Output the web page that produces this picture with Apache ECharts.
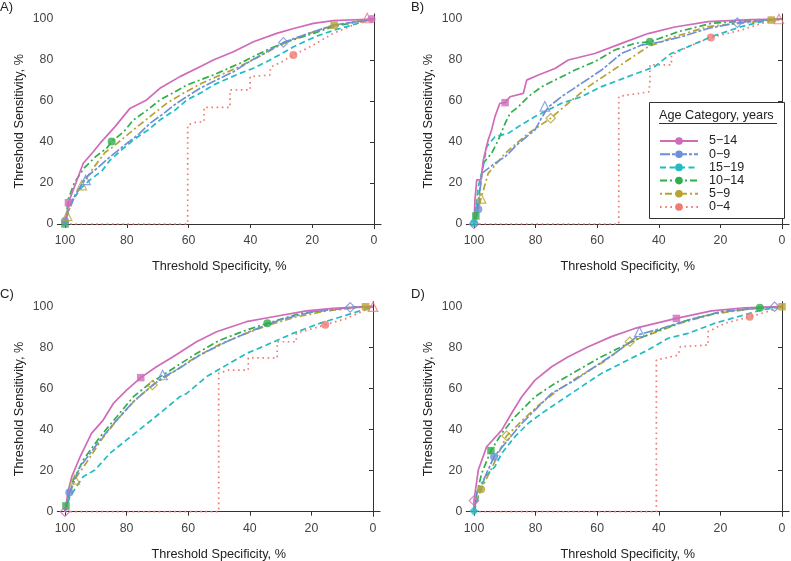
<!DOCTYPE html>
<html><head><meta charset="utf-8">
<script src="https://cdn.jsdelivr.net/npm/echarts@6/dist/echarts.min.js"></script>
<style>html,body{margin:0;padding:0;background:#fff}#c{width:791px;height:561px}</style>
</head><body><div id="c"></div>
<script>
// ---------- data ----------
const categories = ['5\u221214', '0\u22129', '15\u221219', '10\u221214', '5\u22129', '0\u22124'];
const panelLabels = ['A)', 'B)', 'C)', 'D)'];
const tickValues = [0, 20, 40, 60, 80, 100];

// Panel A  [specificity, sensitivity]
const A_514 = [[100,0],[99.3,5],[98.9,10.4],[97,18],[94.1,29.6],[91,35],[88.7,39.3],[83.8,47.5],[79,56.4],[73.6,60.5],[69.3,66.2],[62.8,71.9],[56.3,76.7],[52,80],[45.5,84],[39,88.9],[31.5,93],[26,95.4],[19.6,97.9],[13.2,99.2],[0,100]];
const A_09 = [[100,0],[100,1],[99,8],[96,16],[93,23],[89,28],[85.4,32.8],[80,39.3],[76,44],[72.5,49.1],[68,54],[63.9,58.9],[56.3,66.2],[50,71],[45.5,74.3],[40,79.5],[34.7,84],[29.3,88.6],[24,91.5],[19.6,93.8],[13.2,97],[2.4,99.5],[0,100]];
const A_1519 = [[100,0],[99,6],[97,13],[94.5,18],[91.9,21.5],[88,26],[85.4,31.2],[81,37],[77.9,41],[73,46],[69.3,50.7],[64,56],[60.6,60.5],[56,64],[52,67.8],[48,70.5],[43.4,73.5],[39,76],[34.7,79.2],[30,83],[26,86.5],[21,90],[17.5,92.2],[13,94.5],[8.8,96.3],[4,98.5],[0,100]];
const A_1014 = [[100,0],[99.5,5],[99,12],[97,20],[94,27],[90,33],[86.5,37],[84.9,40.2],[81,45],[77.9,50.7],[73,56],[69.3,60.5],[65,64],[60.6,67.8],[52,72.7],[43.4,78.4],[34.7,84.9],[28.3,88.9],[19.6,93],[13.2,96.3],[2.4,99.5],[0,100]];
const A_59 = [[100,0],[99.5,3],[98,10],[94.6,19],[91,27],[87,35],[85,37],[81,42],[77,47],[72,53],[67,59],[62,63.5],[56,68.5],[50,72.5],[44,76.5],[38,81],[32,86],[27,89.5],[20,93.5],[12.9,97],[5,99],[0,100]];
const A_04 = [[100,0],[60.3,0],[60.3,48.3],[58,49.5],[55,50],[55,56.9],[46.6,56.9],[46.6,65.4],[40.1,65.4],[40.1,71.9],[33.7,72.7],[33.5,76.5],[30,79],[26.1,82.4],[20,87],[13.2,93],[6,97.5],[2.4,99.5],[0,100]];

// Panel B
const B_514 = [[100,0],[99.7,11.7],[99.1,21.5],[97.7,21.5],[97,31],[95.4,41],[94.3,45.9],[93.2,52.4],[91.6,58.9],[89.9,59.2],[88.3,62.1],[84,63.7],[82.9,70.2],[79.1,72.7],[73.7,75.9],[69.4,80],[60.8,83.2],[52.1,88.1],[43.5,92.9],[34.8,96.1],[24,98.7],[10,99.7],[0,100]];
const B_09 = [[100,0],[98.6,7.2],[97.5,24.7],[93.2,29.6],[89.9,32.8],[85.6,39.3],[80.2,45.9],[78,52],[75.9,57],[71.6,62.1],[65.1,68.6],[58.6,75.1],[52.1,83.2],[45.6,87.3],[39.2,88.9],[32.6,91.4],[24,95.4],[14.5,98.2],[0,100]];
const B_1519 = [[100,0],[100,0.5],[98.6,18.2],[97,28],[95.9,37.7],[93.2,42.6],[88.9,44.2],[85.6,47.5],[80.2,52.4],[75.9,55.6],[71.6,58.9],[65.1,62.1],[58.6,67],[50,71.9],[41.4,76.7],[36,83.2],[30.5,86.5],[22.9,91.4],[13.2,96.3],[4.5,99.5],[0,100]];
const B_1014 = [[100,0],[99.4,3.9],[98,18],[97,29.6],[94.3,34.5],[92.1,41],[89.9,49.1],[88.3,54],[85.6,57.2],[82.4,62.1],[78,67],[73.7,70.2],[67.2,75.1],[60.8,79.2],[54.3,84.9],[47.8,88.1],[42.9,88.9],[33.7,93.8],[22.9,97.9],[6.7,99.5],[0,100]];
const B_59 = [[100,0],[99,5],[97.7,12.5],[95.4,24.7],[89.9,34.5],[82.4,44.2],[75.2,51.5],[69.4,58.9],[62.9,67],[56.4,73.5],[50,80],[43.5,86.5],[34.8,91.4],[24,96.3],[3.5,99.5],[0,100]];
const B_04 = [[100,0],[53,0],[53,62.1],[50,63],[46.5,63.7],[43.2,64.5],[42.9,69.4],[42.9,77.6],[35.9,77.6],[35.9,82.4],[30.5,86.5],[23.1,91],[13.2,94.6],[6.7,97.9],[0,100]];

// Panel C
const C_514 = [[100,0],[99,10],[97.8,17.1],[95.1,26.8],[91.4,38.2],[87.6,44.7],[84.3,52.8],[80,59.3],[75.4,65.4],[70.3,70.7],[64.9,75.6],[57.3,82.9],[50.8,87.8],[41.1,92.7],[32.4,95.1],[21.6,98],[13,99.2],[0,100]];
const C_09 = [[100,0],[98.6,9.4],[95.1,21.9],[88.6,35],[83.2,44.7],[77.8,53.7],[71.4,61.8],[68.3,65.5],[63.8,69.1],[56.2,76.4],[47.6,82.9],[38.9,88.6],[30.3,93.5],[19.5,97.6],[7.4,99.7],[0,100]];
const C_1519 = [[100,0],[98.4,7.3],[94.1,17.1],[90.3,20.3],[85.4,28.5],[80,35],[74.6,41.5],[69.2,48],[62.7,56.1],[60.5,57.7],[54,65.9],[47.6,71.5],[41.1,77.2],[34.6,81.3],[26,87],[17.3,91.9],[8.6,95.9],[0,100]];
const C_1014 = [[100,0],[99.7,2.8],[97.3,15.4],[94.1,25.2],[88.6,36.6],[83.2,46.3],[77.8,56.1],[72.4,62.6],[64.9,69.9],[57.3,77.2],[49.7,83.7],[41.1,88.6],[34.3,91.9],[23.8,96.7],[13,98.7],[4.3,100],[0,100]];
const C_59 = [[100,0],[99,6],[96.8,15.8],[93,24],[88,35.5],[83,45],[77.5,54],[71.6,61.8],[65,68],[58,75],[50,81.5],[42,86.5],[34,91],[25,95],[15,98],[2.4,100],[0,100]];
const C_04 = [[100,0],[50.1,0],[50.1,67.5],[47,69.1],[40.5,69.1],[40.5,75],[31.1,75],[31.1,82.9],[24.9,82.9],[24.9,87],[15.5,91.2],[8.6,94.3],[0,100]];

// Panel D
const D_514 = [[100,0],[100,5.4],[98.6,20.3],[95.9,31.7],[91,39.8],[87.8,48],[84.5,56.1],[80.2,64.2],[74.8,70.7],[69.4,75.6],[62.9,80.5],[55.4,85.4],[47.8,89.4],[34.3,94.3],[22.9,98],[12.1,99.5],[0,100]];
const D_09 = [[100,0],[99.1,8.9],[96.4,17.1],[93.5,26.8],[89.9,33.3],[84.5,43.1],[80.2,49.6],[74.8,57.7],[67.2,64.2],[60.8,70.7],[54.3,77.2],[50,82],[46.2,86.5],[39.2,89.4],[30.5,93.5],[19.7,97.6],[2.4,100],[0,100]];
const D_1519 = [[100,0],[100,0.3],[98.6,7.3],[96.4,17.1],[93.2,22],[91,28.5],[86.7,36.6],[82.4,43.1],[78,48],[71.6,54.5],[65.1,61],[58.6,67.5],[50,74],[43.5,78.9],[37,84.6],[30.5,87],[21.9,91.9],[14.4,95.1],[6.7,98.4],[0,100]];
const D_1014 = [[100,0],[99.1,8.9],[97.5,18.7],[94.5,29.8],[91,38.2],[86.7,46.3],[80.2,56.1],[73.7,62.6],[66.2,69.1],[58.6,75.6],[50,82.1],[41.3,87.8],[30.5,93.5],[19.7,97.6],[7.2,99.5],[0,100]];
const D_59 = [[100,0],[99.5,4],[97.7,10.9],[94,22],[89.4,37],[84,45],[79,52],[73,59],[66,66],[58,73],[49.4,82.9],[42,87],[33,92],[22,96.5],[10,99],[0,100]];
const D_04 = [[100,0],[40.8,0],[40.8,74],[33.7,76.4],[33,80.5],[24,81.3],[24,87.8],[18.6,91.9],[10.5,95.1],[6.7,96.7],[0,100]];

// threshold markers: [specificity, sensitivity, category index, shape, filled]
const A_marks = [[98.9,10.4,0,'rect',1],[100,0,3,'rect',1],[100,1.5,1,'circle',1],[99.3,4,4,'triangle',0],[94.6,19,4,'triangle',0],[93.3,21.5,1,'triangle',0],[84.9,40.2,3,'circle',1],[29.3,88.6,1,'diamond',0],[26.1,82.4,5,'circle',1],[12.9,97,4,'rect',1],[2.2,100.5,5,'triangle',0],[0.8,100,0,'circle',1]];
const B_marks = [[89.9,59.2,0,'rect',1],[42.9,88.9,3,'circle',1],[23.1,91,5,'circle',1],[14.5,98.2,1,'diamond',0],[3.5,99.5,4,'rect',1],[1,100,5,'triangle',0],[77,57.4,1,'triangle',0],[75.1,51.6,4,'diamond',0],[97.7,12.5,4,'triangle',0],[98.6,7.2,1,'circle',1],[99.4,3.9,3,'rect',1],[100,0,0,'diamond',0],[100,0.5,2,'circle',1]];
const C_marks = [[75.4,65.4,0,'rect',1],[34.3,91.9,3,'circle',1],[15.5,91.2,5,'circle',1],[7.4,99.7,1,'diamond',0],[2.4,100,4,'rect',1],[0,100,5,'triangle',0],[68.3,66.7,1,'triangle',0],[71.6,61.8,4,'diamond',0],[96.8,15.8,4,'triangle',0],[98.6,9.4,1,'circle',1],[99.7,2.8,3,'rect',1],[100,0,0,'diamond',0]];
const D_marks = [[34.3,94.3,0,'rect',1],[7.2,99.5,3,'circle',1],[10.5,95.1,5,'circle',1],[2.4,100,1,'diamond',0],[0,100,4,'rect',1],[46.3,87.8,1,'triangle',0],[49.4,82.9,4,'diamond',0],[89.4,37,4,'diamond',0],[94.5,29.8,3,'rect',1],[93.5,26.8,1,'circle',1],[97.7,10.9,4,'circle',1],[100,5.4,0,'diamond',0],[100,0.3,2,'diamond',1]];

// ---------- styling ----------
const colors = ['#D06BBA', '#6E90D8', '#22BBC3', '#2FAE4B', '#B7A232', '#EF7A72'];
const dashes = ['solid', [10, 2, 3, 2], [6, 3.5], [7, 3, 2, 3], [2, 3, 7, 3], [1.6, 3.6]];
const FONT = 'Liberation Sans, Arial, Helvetica, sans-serif';

const panels = [
  { curves: [A_514, A_09, A_1519, A_1014, A_59, A_04], marks: A_marks, grid: { left: 57.3, top: 13.9, width: 323.8, height: 214.8 }, label: { left: 0, top: 1 } },
  { curves: [B_514, B_09, B_1519, B_1014, B_59, B_04], marks: B_marks, grid: { left: 466.3, top: 13.9, width: 322.8, height: 214.8 }, label: { left: 411, top: 1 } },
  { curves: [C_514, C_09, C_1519, C_1014, C_59, C_04], marks: C_marks, grid: { left: 57.3, top: 301.6, width: 322.8, height: 214.8 }, label: { left: 0, top: 288 } },
  { curves: [D_514, D_09, D_1519, D_1014, D_59, D_04], marks: D_marks, grid: { left: 466.3, top: 301.6, width: 322.8, height: 214.8 }, label: { left: 411, top: 288 } }
];

const axisCommon = {
  type: 'value', min: -2.3, max: 102.5,
  axisLine: { show: true, lineStyle: { color: '#333', width: 1 } },
  axisTick: { show: true, length: 4, lineStyle: { color: '#333' }, customValues: tickValues },
  axisLabel: { fontSize: 12.3, color: '#444', fontFamily: FONT, customValues: tickValues },
  splitLine: { show: false },
  nameLocation: 'middle',
  nameTextStyle: { fontSize: 12.7, color: '#222', fontFamily: FONT }
};

const grids = [], xAxes = [], yAxes = [], series = [], titles = [];
panels.forEach((p, i) => {
  grids.push(Object.assign({ outerBoundsMode: 'none', containLabel: false }, p.grid));
  xAxes.push(Object.assign({}, axisCommon, { gridIndex: i, inverse: true, name: 'Threshold Specificity, %', nameGap: 31.5,
    axisLabel: Object.assign({}, axisCommon.axisLabel, { margin: 6 }) }));
  yAxes.push(Object.assign({}, axisCommon, { gridIndex: i, name: 'Threshold Sensitivity, %', nameGap: 31.5,
    axisLabel: Object.assign({}, axisCommon.axisLabel, { margin: 4 }) }));
  titles.push({ text: panelLabels[i], left: p.label.left, top: p.label.top, padding: 0,
    textStyle: { fontSize: 13, fontWeight: 'normal', color: '#222', fontFamily: FONT } });
  [5, 4, 3, 2, 1, 0].forEach(k => {
    series.push({
      type: 'line', name: categories[k], xAxisIndex: i, yAxisIndex: i,
      data: p.curves[k], symbol: 'none', showSymbol: false, smooth: false,
      color: colors[k],
      lineStyle: { color: colors[k], width: 1.7, type: dashes[k] },
      z: 2, silent: true, animation: false
    });
  });
  series.push({
    type: 'scatter', name: 'markers' + i, xAxisIndex: i, yAxisIndex: i, z: 5, silent: true, animation: false,
    data: p.marks.map(m => ({
      value: [m[0], m[1]],
      symbol: m[3],
      symbolSize: m[3] === 'rect' ? 7.5 : (m[3] === 'circle' ? 8 : 9.5),
      itemStyle: m[4] ? { color: colors[m[2]], borderWidth: 0 }
                      : { color: 'rgba(255,255,255,0)', borderColor: colors[m[2]], borderWidth: 1.2 }
    }))
  });
});

const chart = echarts.init(document.getElementById('c'), null, { renderer: 'canvas' });
chart.setOption({
  animation: false,
  backgroundColor: '#fff',
  title: titles,
  grid: grids, xAxis: xAxes, yAxis: yAxes, series: series,
  legend: {
    data: categories, orient: 'vertical', left: 659, top: 134.5, padding: 0, z: 100,
    itemWidth: 38, itemHeight: 9.5, itemGap: 0.2, selectedMode: false,
    textStyle: { fontSize: 12.5, color: '#222', fontFamily: FONT, lineHeight: 13, padding: [0, 0, 0, 6] }
  },
  graphic: [
    { type: 'rect', z: 50, shape: { x: 649.5, y: 102.5, width: 135, height: 116 }, style: { fill: '#fff', stroke: '#333', lineWidth: 1 } },
    { type: 'text', z: 51, x: 659, y: 115, style: { text: 'Age Category, years', fill: '#222', font: '12.7px ' + FONT, verticalAlign: 'middle' } },
    { type: 'line', z: 51, shape: { x1: 659, y1: 123.5, x2: 777, y2: 123.5 }, style: { stroke: '#333', lineWidth: 1 } }
  ]
});
</script></body></html>
